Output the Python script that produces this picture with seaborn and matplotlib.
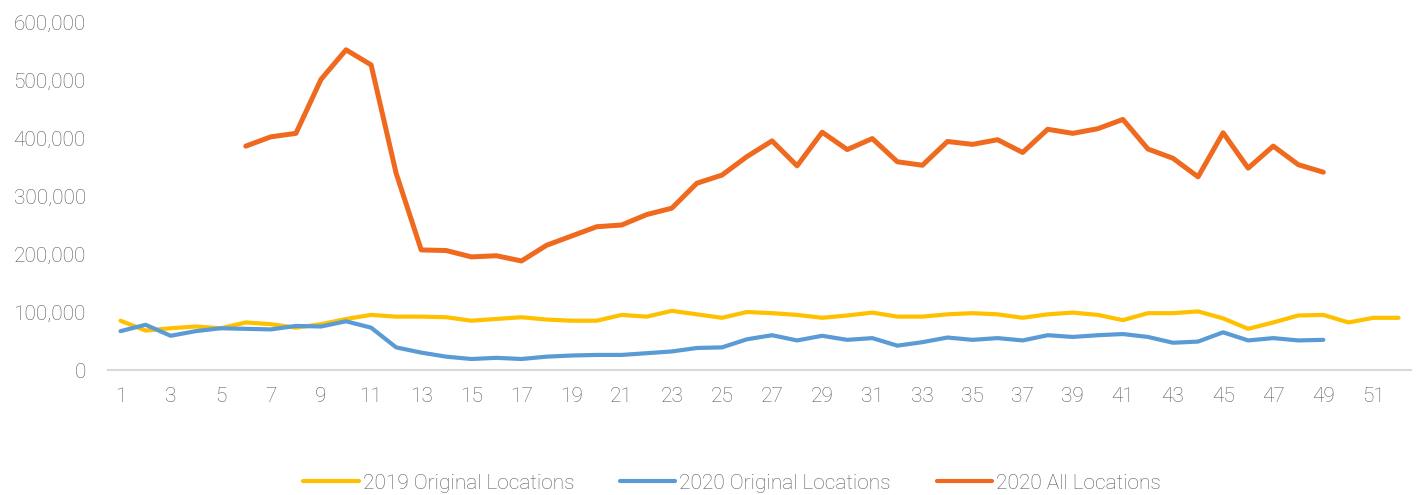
import numpy as np
import pandas as pd
import matplotlib
matplotlib.use("Agg")
import matplotlib.pyplot as plt
import matplotlib.ticker as mticker
import seaborn as sns

# weekly values
weeks = list(range(1, 53))

loc2019 = [85000, 68000, 72000, 75000, 72000, 82000, 79000, 73000, 79000, 88000,
           95000, 92000, 92000, 91000, 85000, 88000, 91000, 87000, 85000, 85000,
           95000, 92000, 102000, 96000, 90000, 100000, 98000, 95000, 90000, 94000,
           99000, 92000, 92000, 96000, 98000, 96000, 90000, 96000, 99000, 95000,
           86000, 98000, 98000, 101000, 89000, 71000, 82000, 94000, 95000, 82000,
           90000, 90000]

loc2020 = [67000, 78000, 59000, 67000, 72000, 71000, 70000, 76000, 75000, 84000,
           73000, 39000, 30000, 23000, 19000, 21000, 19000, 23000, 25000, 26000,
           26000, 29000, 32000, 38000, 39000, 53000, 60000, 51000, 59000, 52000,
           55000, 42000, 48000, 56000, 52000, 55000, 51000, 60000, 57000, 60000,
           62000, 57000, 47000, 49000, 65000, 51000, 55000, 51000, 52000]

all2020_start = 6
all2020 = [386000, 402000, 408000, 501000, 552000, 526000, 339000, 207000, 206000, 195000,
           197000, 188000, 215000, 231000, 247000, 250000, 268000, 279000, 322000, 336000,
           368000, 395000, 352000, 410000, 380000, 399000, 359000, 353000, 394000, 389000,
           397000, 375000, 415000, 408000, 416000, 432000, 381000, 365000, 333000, 409000,
           348000, 386000, 354000, 341000]

df19 = pd.DataFrame({"week": weeks[:len(loc2019)], "value": loc2019})
df20 = pd.DataFrame({"week": weeks[:len(loc2020)], "value": loc2020})
dfall = pd.DataFrame({"week": weeks[all2020_start - 1:all2020_start - 1 + len(all2020)],
                      "value": all2020})

sns.set_style("white")
plt.rcParams["font.family"] = ["Roboto", "DejaVu Sans"]
plt.rcParams["font.weight"] = "light"

grey = "#595959"
fig = plt.figure(figsize=(14.19, 4.95), dpi=100)
ax = fig.add_axes([0.0761, 0.2525, 0.9183, 0.7031])

sns.lineplot(data=df19, x="week", y="value", ax=ax, color="#FFC000", linewidth=3.0,
             label="2019 Original Locations", solid_joinstyle="round", solid_capstyle="round")
sns.lineplot(data=df20, x="week", y="value", ax=ax, color="#5B9BD5", linewidth=3.0,
             label="2020 Original Locations", solid_joinstyle="round", solid_capstyle="round")
sns.lineplot(data=dfall, x="week", y="value", ax=ax, color="#EF6A1F", linewidth=3.6,
             label="2020 All Locations", solid_joinstyle="round", solid_capstyle="round")

ax.set_xlim(0.5, 52.5)
ax.set_ylim(0, 600000)
ax.set_xticks(weeks[::2])
ax.set_yticks(np.arange(0, 600001, 100000))
ax.yaxis.set_major_formatter(mticker.FuncFormatter(lambda v, p: f"{int(v):,}"))
ax.set_xlabel("")
ax.set_ylabel("")

for s in ["top", "right", "left"]:
    ax.spines[s].set_visible(False)
ax.spines["bottom"].set_color("#d9d9d9")
ax.spines["bottom"].set_linewidth(1.5)
ax.tick_params(axis="both", length=0, labelcolor=grey, labelsize=15)
ax.tick_params(axis="x", pad=12)
ax.tick_params(axis="y", pad=16)
ax.grid(False)

leg = ax.legend(loc="center", bbox_to_anchor=(0.479, -0.325), ncol=3, frameon=False,
                fontsize=15, handlelength=2.65, handletextpad=0.2, columnspacing=2.2)
for t in leg.get_texts():
    t.set_color(grey)
for h in leg.get_lines():
    h.set_linewidth(3.0)

fig.savefig("out.png", dpi=100)
